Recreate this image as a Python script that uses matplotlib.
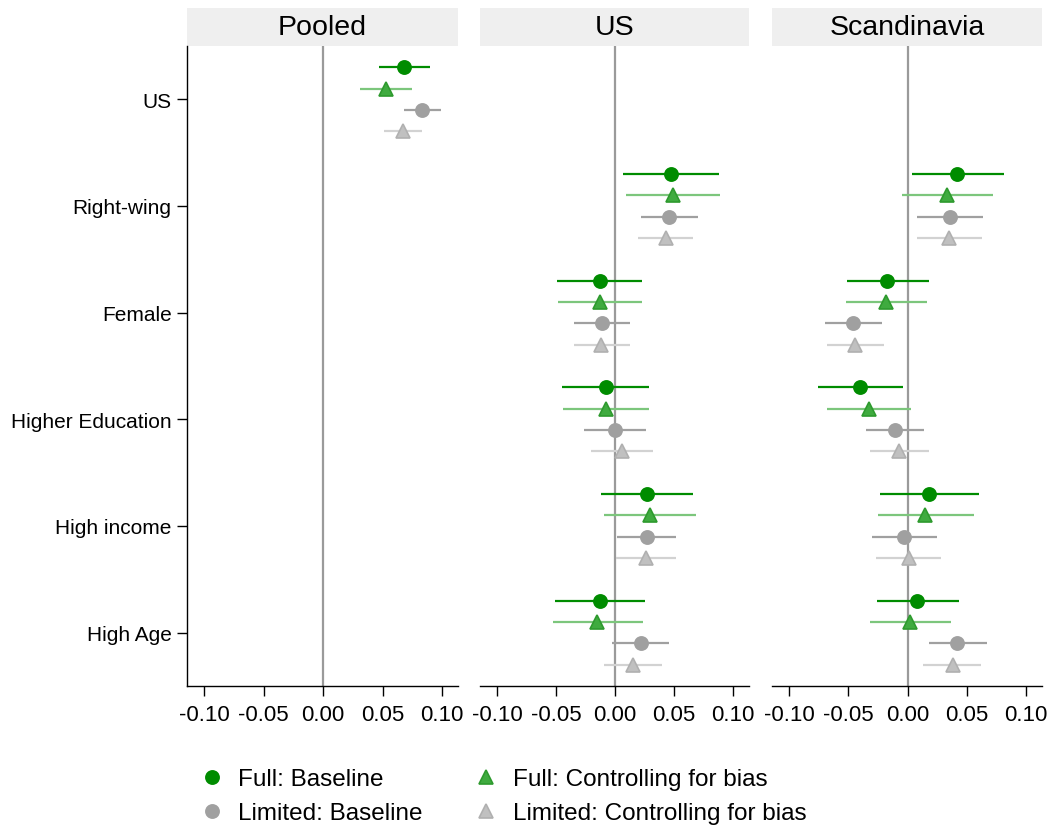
import matplotlib
matplotlib.use("Agg")
import matplotlib.pyplot as plt
from matplotlib.lines import Line2D
from matplotlib.patches import Rectangle

plt.rcParams['font.family'] = ['Liberation Sans', 'DejaVu Sans']

rows = ["US", "Right-wing", "Female", "Higher Education", "High income", "High Age"]
panels = ["Pooled", "US", "Scandinavia"]
xticks = [-0.10, -0.05, 0.00, 0.05, 0.10]
xtick_labels = ["-0.10", "-0.05", "0.00", "0.05", "0.10"]

# (estimate, lower, upper); pooled has only the US row, the regional ones start at Right-wing
pooled_full_base = [(0.068, 0.047, 0.090)]
pooled_full_ctrl = [(0.053, 0.031, 0.075)]
pooled_lim_base = [(0.083, 0.068, 0.099)]
pooled_lim_ctrl = [(0.067, 0.051, 0.083)]

us_full_base = [(0.047, 0.007, 0.088), (-0.013, -0.049, 0.023), (-0.008, -0.045, 0.029),
                (0.027, -0.012, 0.066), (-0.013, -0.051, 0.025)]
us_full_ctrl = [(0.049, 0.009, 0.089), (-0.013, -0.048, 0.023), (-0.008, -0.044, 0.029),
                (0.030, -0.009, 0.069), (-0.015, -0.053, 0.024)]
us_lim_base = [(0.046, 0.022, 0.070), (-0.011, -0.035, 0.013), (0.000, -0.026, 0.026),
               (0.027, 0.002, 0.052), (0.022, -0.003, 0.046)]
us_lim_ctrl = [(0.043, 0.019, 0.066), (-0.012, -0.035, 0.013), (0.006, -0.020, 0.032),
               (0.026, 0.001, 0.052), (0.015, -0.009, 0.040)]

sc_full_base = [(0.042, 0.004, 0.081), (-0.017, -0.051, 0.018), (-0.040, -0.076, -0.004),
                (0.018, -0.023, 0.060), (0.008, -0.026, 0.043)]
sc_full_ctrl = [(0.033, -0.005, 0.072), (-0.018, -0.052, 0.016), (-0.033, -0.068, 0.003),
                (0.015, -0.025, 0.056), (0.002, -0.032, 0.037)]
sc_lim_base = [(0.036, 0.008, 0.064), (-0.046, -0.070, -0.022), (-0.011, -0.035, 0.014),
               (-0.003, -0.030, 0.025), (0.042, 0.018, 0.067)]
sc_lim_ctrl = [(0.035, 0.008, 0.063), (-0.044, -0.068, -0.020), (-0.007, -0.032, 0.018),
               (0.001, -0.027, 0.028), (0.038, 0.013, 0.062)]

# series styles: vertical offset, marker, marker face, marker edge, line colour
styles = [
    (-0.3, 'o', '#008c00', '#008c00', '#008c00'),
    (-0.1, '^', '#3fab3f', '#2e9a2e', '#7cc67c'),
    (0.1, 'o', '#a0a0a0', '#a0a0a0', '#a0a0a0'),
    (0.3, '^', '#c0c0c0', '#b0b0b0', '#d2d2d2'),
]

panel_data = {
    "Pooled": ([pooled_full_base, pooled_full_ctrl, pooled_lim_base, pooled_lim_ctrl], 1),
    "US": ([us_full_base, us_full_ctrl, us_lim_base, us_lim_ctrl], 2),
    "Scandinavia": ([sc_full_base, sc_full_ctrl, sc_lim_base, sc_lim_ctrl], 2),
}

W, H = 1052, 829
fig = plt.figure(figsize=(W / 100, H / 100), dpi=100)
lefts = [187, 480, 772]
widths = [271, 269, 270]
top, bottom = 47, 687

for i, name in enumerate(panels):
    ax = fig.add_axes([lefts[i] / W, (H - bottom) / H, widths[i] / W, (bottom - top) / H])
    ax.axvline(0, color='#9a9a9a', lw=1.6, zorder=1)
    series, first_row = panel_data[name]
    for vals, (off, mk, mfc, mec, lc) in zip(series, styles):
        for j, (est, lo, hi) in enumerate(vals):
            y = first_row + j + off
            ax.plot([lo, hi], [y, y], color=lc, lw=1.6, solid_capstyle='butt', zorder=2)
            ax.plot(est, y, marker=mk, ms=9.5 if mk == 'o' else 10, mfc=mfc, mec=mec,
                    mew=1.2, zorder=3)
    ax.set_xlim(-0.1145, 0.1135)
    ax.set_ylim(6.5, 0.5)
    ax.set_xticks(xticks)
    ax.set_xticklabels(xtick_labels, fontsize=16)
    ax.tick_params(axis='x', length=7, width=1, pad=6)
    for s in ['top', 'right']:
        ax.spines[s].set_visible(False)
    ax.spines['bottom'].set_linewidth(1)
    if i == 0:
        ax.set_yticks(range(1, 7))
        ax.set_yticklabels(rows, fontsize=15)
        ax.tick_params(axis='y', length=7, width=1, pad=4)
        ax.spines['left'].set_linewidth(1)
    else:
        ax.set_yticks([])
        ax.spines['left'].set_visible(False)
    strip_h = 38 / (bottom - top)
    ax.add_patch(Rectangle((0, 1), 1, strip_h, transform=ax.transAxes,
                           facecolor='#efefef', edgecolor='none', clip_on=False))
    ax.text(0.5, 1 + strip_h / 2, name, transform=ax.transAxes, ha='center',
            va='center', fontsize=20.5)

legend_labels = ["Full: Baseline", "Limited: Baseline",
                 "Full: Controlling for bias", "Limited: Controlling for bias"]
order = [0, 2, 1, 3]
handles = []
for k in order:
    off, mk, mfc, mec, lc = styles[k]
    handles.append(Line2D([], [], ls='none', marker=mk, ms=9.5 if mk == 'o' else 10,
                          mfc=mfc, mec=mec, mew=1.2))
fig.legend(handles, legend_labels, ncol=2, loc='upper left',
           bbox_to_anchor=(185 / W, 1 - 757 / H), frameon=False, fontsize=17.5,
           handletextpad=0.5, columnspacing=2.0, labelspacing=0.5,
           handlelength=1.2, borderpad=0)

fig.savefig("out.png", dpi=100)
